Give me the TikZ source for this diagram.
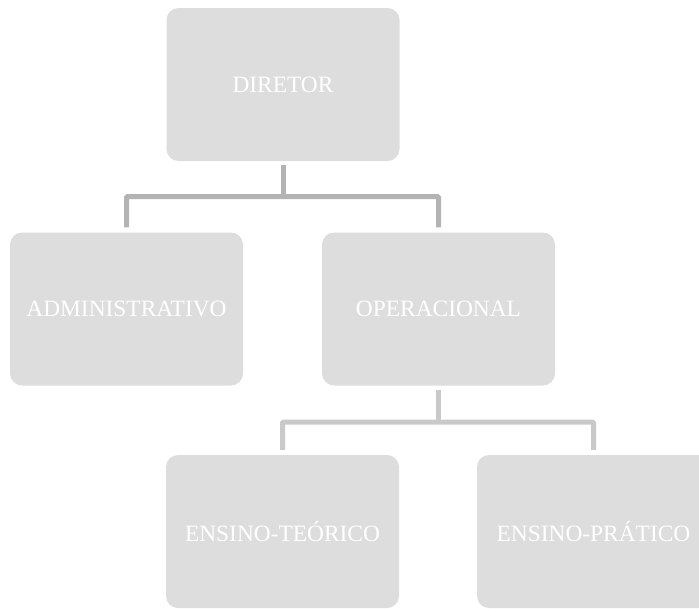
\documentclass[tikz,border=0pt]{standalone}
\usepackage{fontspec}
\setmainfont{Liberation Serif}
\usetikzlibrary{positioning}
\definecolor{boxgray}{HTML}{DDDDDD}
\definecolor{lineone}{HTML}{B3B3B3}
\definecolor{linetwo}{HTML}{C9C9C9}
\tikzstyle{unit}=[rectangle,rounded corners=12pt,fill=boxgray,minimum width=233pt,minimum height=153pt,inner sep=0pt,text=white,font=\fontsize{23.4}{28}\selectfont]
\tikzstyle{link}=[draw,line width=5pt,rounded corners=1pt,shorten <=4pt,shorten >=5pt]
\tikzstyle{linkone}=[link,lineone]
\tikzstyle{linktwo}=[link,linetwo]
\begin{document}
\begin{tikzpicture}[x=1pt,y=-1pt]
  \clip (0,0) rectangle (699,608);

    \foreach \pos/\name/\label in {{(283,84.5)/dir/DIRETOR}, {(126.5,309)/adm/ADMINISTRATIVO}, {(438.5,309)/ope/OPERACIONAL}, {(282.5,531.5)/teo/ENSINO-TEÓRICO}, {(593.5,531.5)/pra/ENSINO-PRÁTICO}}
        \node[unit] (\name) at \pos {\label};

    % bars below the boxes
  \path (dir.south) ++(0,35.5) coordinate (dirbar);
  \path (ope.south) ++(0,36.5) coordinate (opebar);

  \draw[linkone, shorten >=0pt] (dir.south) -- (dirbar);
  \draw[linkone, shorten <=5pt] (adm.north) |- (dirbar) -| (ope.north);

  \draw[linktwo, shorten >=0pt] (ope.south) -- (opebar);
  \draw[linktwo, shorten <=5pt] (teo.north) |- (opebar) -| (pra.north);

\end{tikzpicture}
\end{document}
